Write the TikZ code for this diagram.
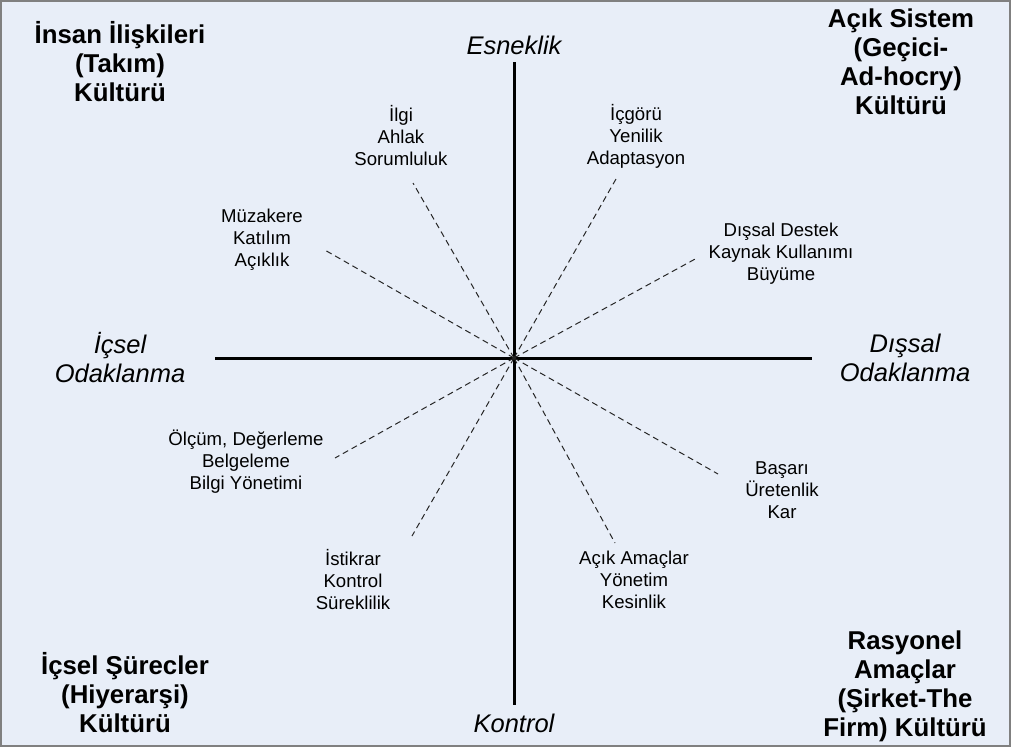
\documentclass[tikz,border=0pt]{standalone}
\usepackage{fontspec}
\setmainfont{Liberation Sans}
\definecolor{bgblue}{HTML}{E8EEF8}
\definecolor{framegray}{HTML}{808080}
\begin{document}
\begin{tikzpicture}[x=1pt,y=-1pt,
  corner/.style={font=\fontsize{25.8}{29}\selectfont\bfseries, align=center, inner sep=0pt},
  axislabel/.style={font=\fontsize{25.5}{29}\selectfont\itshape, align=center, inner sep=0pt},
  value/.style={font=\fontsize{18.6}{22}\selectfont, align=center, inner sep=0pt},
  axis/.style={line width=3pt, black},
  spoke/.style={dash pattern=on 6pt off 4pt, line width=1pt, black!85}]

% background and frame
\fill[bgblue] (0,0) rectangle (1011,747);
\draw[framegray, line width=2pt] (1,1) rectangle (1010,746);

% axes
\coordinate (O) at (514,358);
\coordinate (top) at (514,62);
\coordinate (bottom) at (514,705);
\coordinate (left) at (215,358);
\coordinate (right) at (812,358);
\draw[axis] (top) -- (bottom);
\draw[axis] (left) -- (right);

% axis labels
\node[axislabel] (flex) at (514,45) {Esneklik};
\node[axislabel] (ctrl) at (514,723) {Kontrol};
\node[axislabel] (inner) at (120,358) {İçsel\\Odaklanma};
\node[axislabel] (outer) at (905,358) {Dışsal\\Odaklanma};

% quadrant titles
\node[corner] (team) at (120,62) {İnsan İlişkileri\\(Takım)\\Kültürü};
\node[corner] (open) at (901,62) {Açık Sistem\\(Geçici-\\Ad-hocry)\\Kültürü};
\node[corner] (hier) at (125,693) {İçsel Şürecler\\(Hiyerarşi)\\Kültürü};
\node[corner] (firm) at (905,686) {Rasyonel\\Amaçlar\\(Şirket-The\\Firm) Kültürü};

% values
\node[value] (ilgi) at (401,136) {İlgi\\Ahlak\\Sorumluluk};
\node[value] (icgoru) at (636,136) {İçgörü\\Yenilik\\Adaptasyon};
\node[value] (muzakere) at (262,240) {Müzakere\\Katılım\\Açıklık};
\node[value] (destek) at (781,254) {Dışsal Destek\\Kaynak Kullanımı\\Büyüme};
\node[value] (olcum) at (246,462) {Ölçüm, Değerleme\\Belgeleme\\Bilgi Yönetimi};
\node[value] (basari) at (782,490) {Başarı\\Üretenlik\\Kar};
\node[value] (istikrar) at (353,580) {İstikrar\\Kontrol\\Süreklilik};
\node[value] (amaclar) at (634,580) {Açık Amaçlar\\Yönetim\\Kesinlik};

% spoke ends
\coordinate (eIlgi) at (413,183);
\coordinate (eIcgoru) at (616,179);
\coordinate (eMuzakere) at (323,249);
\coordinate (eDestek) at (697,258);
\coordinate (eOlcum) at (335,458);
\coordinate (eBasari) at (718,474);
\coordinate (eIstikrar) at (412,536);
\coordinate (eAmaclar) at (615,543);

\foreach \e in {eIlgi,eIcgoru,eMuzakere,eDestek,eOlcum,eBasari,eIstikrar,eAmaclar}
  \draw[spoke] (O) -- (\e);
\end{tikzpicture}
\end{document}
